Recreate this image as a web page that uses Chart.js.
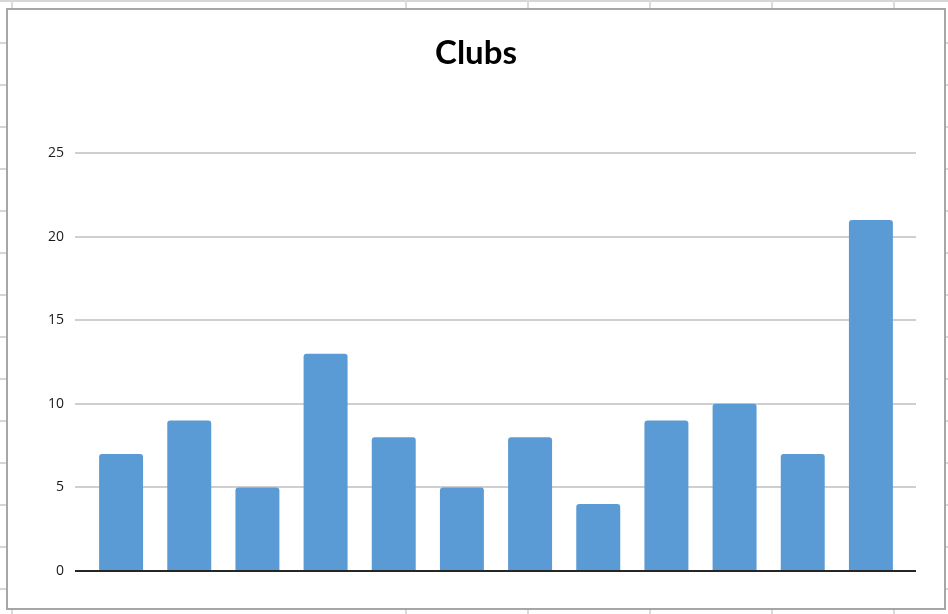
<!DOCTYPE html>
<html>
<head>
<meta charset="utf-8">
<script src="https://cdn.jsdelivr.net/npm/chart.js@4.4.1/dist/chart.umd.min.js"></script>
<style>
  html, body { margin: 0; padding: 0; background: #fff; }
  #sheet {
    position: absolute; left: 0; top: 0; width: 948px; height: 614px; overflow: hidden;
    background-image: repeating-linear-gradient(to bottom, #d6d6d6 0 2px, transparent 2px 42px);
    background-position: 0 0;
  }
  .col { position: absolute; top: 0; width: 2px; height: 614px; background: #dadada; }
  #frame {
    position: absolute; left: 6px; top: 8px; width: 940px; height: 602px;
    box-sizing: border-box; border: 2px solid #a6a6a6; background: #fff;
  }
  #frame canvas { display: block; }
</style>
</head>
<body>
<div id="sheet"></div>
<div id="frame"><canvas id="clubsChart" width="936" height="598"></canvas></div>
<script>
// chart data
const clubs = ["1", "2", "3", "4", "5", "6", "7", "8", "9", "10", "11", "12"];
const clubCounts = [7, 9, 5, 13, 8, 5, 8, 4, 9, 10, 7, 21];
const yTicks = [0, 5, 10, 15, 20, 25];

// spreadsheet column lines peeking out behind the chart frame
const sheetCols = [11, 405, 527, 649, 771, 893];
sheetCols.forEach(function (x) {
  const d = document.createElement("div");
  d.className = "col";
  d.style.left = x + "px";
  document.getElementById("sheet").appendChild(d);
});

// zero line is dark, the rest light grey
function gridColor(c) {
  return c.tick && c.tick.value === 0 ? "#262626" : "#cfcfcf";
}

const tickFont = { family: "'Open Sans', sans-serif", size: 14 };

const config = {
  type: "bar",
  data: {
    labels: clubs,
    datasets: [
      {
        label: "Clubs",
        data: clubCounts,
        backgroundColor: "#5b9bd5",
        borderRadius: { topLeft: 3, topRight: 3 },
        borderSkipped: "start",
        categoryPercentage: 1,
        barPercentage: 0.645
      }
    ]
  },
  options: {
    responsive: false,
    animation: false,
    layout: { padding: { left: 0, right: 0, top: 0, bottom: 37 } },
    plugins: {
      legend: { display: false },
      tooltip: { enabled: false },
      title: {
        display: true,
        text: "Clubs",
        color: "#000",
        font: { family: "Lato, sans-serif", size: 33, weight: "bold", lineHeight: 1.2 },
        padding: { top: 24, bottom: 79.4 }
      }
    },
    scales: {
      x: { display: false },
      y: {
        position: "left",
        min: 0,
        max: 25,
        afterBuildTicks: function (s) {
          s.ticks = yTicks.map(function (v) { return { value: v }; });
        },
        afterFit: function (s) { s.width = 79; },
        border: { display: false },
        grid: { color: gridColor, tickColor: gridColor, lineWidth: 2, tickLength: 12 },
        ticks: { color: "#1a1a1a", font: tickFont, padding: 11 }
      },
      y2: {
        position: "right",
        min: 0,
        max: 25,
        afterBuildTicks: function (s) {
          s.ticks = yTicks.map(function (v) { return { value: v }; });
        },
        // tick marks stick out 11px past the plot, the rest is empty margin
        afterFit: function (s) { s.width = 39; },
        border: { display: false },
        grid: { drawOnChartArea: false, color: gridColor, tickColor: gridColor, lineWidth: 2, tickLength: 11 },
        ticks: { display: false }
      }
    }
  }
};

const clubsChart = new Chart(document.getElementById("clubsChart"), config);
</script>
</body>
</html>
